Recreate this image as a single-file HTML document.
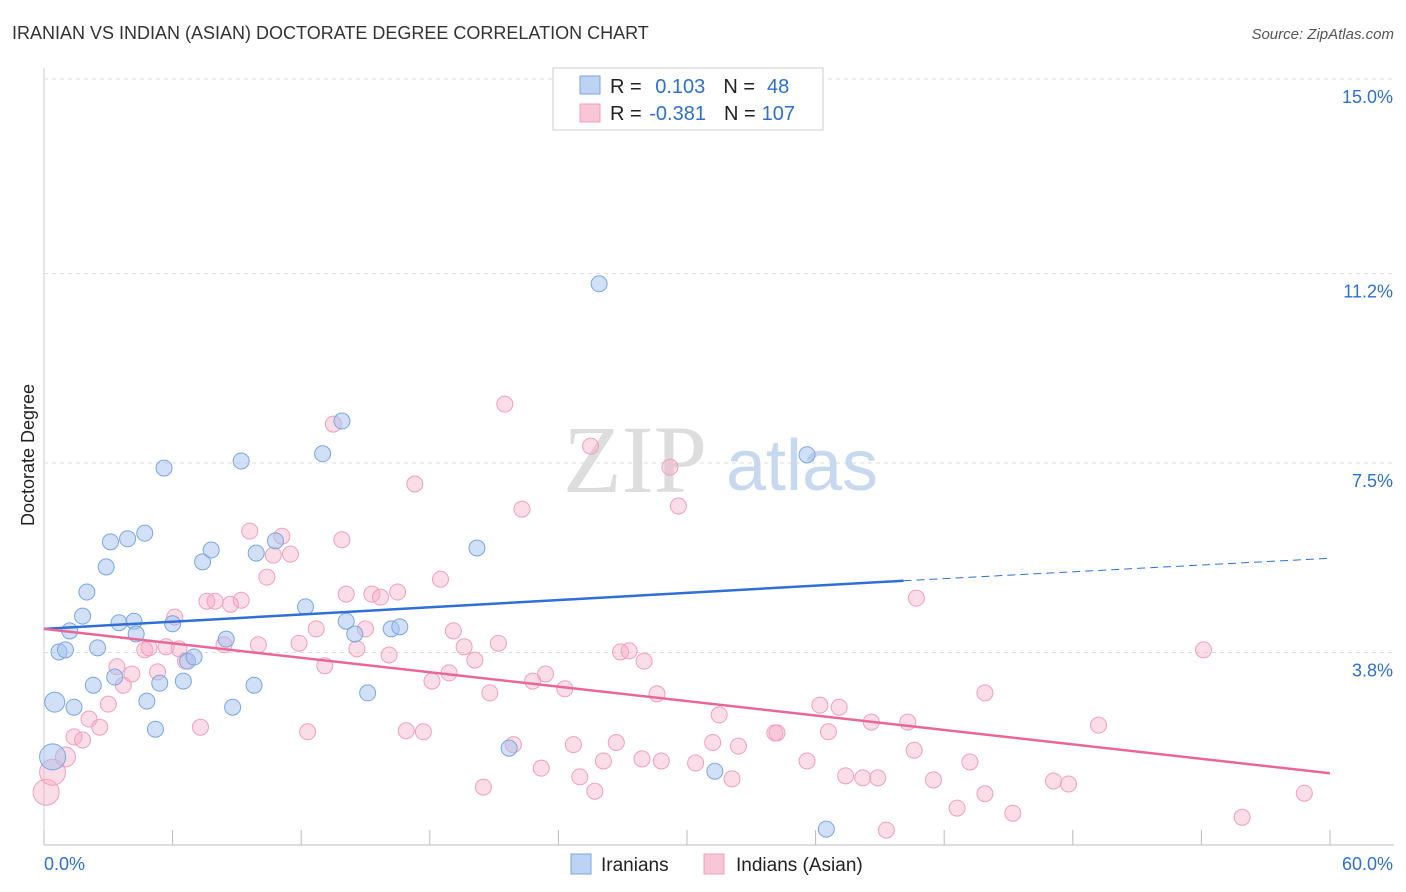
<!DOCTYPE html>
<html><head><meta charset="utf-8"><style>
body{margin:0;background:#fff;font-family:"Liberation Sans",sans-serif;}
svg{display:block}
</style></head><body>
<svg width="1406" height="892" xmlns="http://www.w3.org/2000/svg">
<text x="12" y="39" font-size="18" fill="#333">IRANIAN VS INDIAN (ASIAN) DOCTORATE DEGREE CORRELATION CHART</text>
<text x="1394" y="39" font-size="15" fill="#555" font-style="italic" text-anchor="end">Source: ZipAtlas.com</text>
<g id="grid"></g>
<text x="635" y="492" font-size="96" fill="#ddd" font-family="Liberation Serif,serif" text-anchor="middle">ZIP</text>
<text x="802" y="490" font-size="72" fill="#c8d8ef" text-anchor="middle">atlas</text>
<text x="34" y="455" font-size="18" fill="#222" text-anchor="middle" transform="rotate(-90 34 455)">Doctorate Degree</text>
<g id="pts"></g>
<g id="lines"></g>
<g>
<rect x="553" y="68" width="270" height="62" fill="#fff" stroke="#ccc"/>
<rect x="580" y="76" width="20" height="18" fill="#bcd3f3" stroke="#7aa6e0"/>
<rect x="580" y="104" width="20" height="18" fill="#f8c6d6" stroke="#f0a0ba"/>
<text x="610" y="93" font-size="20" fill="#222">R = <tspan fill="#2f6fcf" dx="8">0.103</tspan><tspan dx="18" fill="#222">N =</tspan><tspan dx="12" fill="#2f6fcf">48</tspan></text>
<text x="610" y="120" font-size="20" fill="#222">R = <tspan fill="#2f6fcf" dx="2">-0.381</tspan><tspan dx="18" fill="#222">N =</tspan><tspan dx="6" fill="#2f6fcf">107</tspan></text>
</g>
<g>
<rect x="571" y="854" width="20" height="20" fill="#bcd3f3" stroke="#7aa6e0"/>
<text x="601" y="871" font-size="19" fill="#222">Iranians</text>
<rect x="704" y="854" width="20" height="20" fill="#f8c6d6" stroke="#f0a0ba"/>
<text x="736" y="871" font-size="19" fill="#222">Indians (Asian)</text>
</g>
</svg>
<script>
const yTicks=[3.8,7.5,11.2,15.0];
const yTickLabels=["3.8%","7.5%","11.2%","15.0%"];
const xTickLabels=["0.0%","60.0%"];
const blueX=[0.4,0.5,1.4,0.7,1.0,1.2,1.8,2.0,2.3,2.5,2.9,3.1,3.5,3.3,3.9,4.2,4.3,4.7,4.8,5.2,5.4,5.6,6.0,6.5,6.7,7.0,7.4,7.8,8.5,8.8,9.2,9.8,9.9,10.8,12.2,13.0,13.9,14.1,14.5,15.1,16.2,16.6,20.2,21.7,25.9,31.3,35.6,36.5];
const blueY=[1.76,2.83,2.73,3.81,3.85,4.22,4.51,4.98,3.16,3.89,5.47,5.96,4.38,3.32,6.02,4.41,4.16,6.13,2.85,2.30,3.20,7.40,4.36,3.24,3.63,3.71,5.57,5.80,4.06,2.73,7.54,3.16,5.74,5.98,4.69,7.68,8.32,4.41,4.16,3.01,4.26,4.30,5.84,1.93,11.0,1.48,7.66,0.35];
const blueR=[13,10,8,8,8,8,8,8,8,8,8,8,8,8,8,8,8,8,8,8,8,8,8,8,8,8,8,8,8,8,8,8,8,8,8,8,8,8,8,8,8,8,8,8,8,8,8,8];
const pinkX=[0.1,0.4,1.0,1.4,1.8,2.1,2.6,3.0,3.4,3.7,4.1,4.7,4.9,5.3,5.7,6.1,6.3,6.6,7.3,7.6,7.98,8.4,8.7,9.2,9.6,10.0,10.4,10.7,11.1,11.5,11.9,12.3,12.7,13.1,13.5,13.9,14.1,14.6,15.0,15.3,15.7,16.1,16.5,16.9,17.3,17.7,18.1,18.5,18.9,19.1,19.6,20.1,20.5,20.8,21.2,21.5,21.9,22.3,22.8,23.2,23.4,24.3,24.7,25.0,25.5,25.7,26.1,26.7,26.9,27.3,27.9,28.0,28.6,28.8,29.2,29.6,30.4,31.2,31.5,32.1,32.4,34.1,34.2,35.6,36.2,36.6,37.1,37.4,38.2,38.9,38.6,39.3,40.3,40.6,40.7,41.5,42.6,43.2,43.9,43.9,45.2,47.1,47.8,49.2,54.1,55.9,58.8];
const pinkY=[1.07,1.46,1.76,2.15,2.09,2.50,2.34,2.79,3.52,3.16,3.38,3.85,3.89,3.42,3.91,4.49,3.87,3.63,2.34,4.80,4.80,3.95,4.74,4.82,6.17,3.95,5.27,5.70,6.07,5.72,3.98,2.25,4.26,3.54,8.26,6.00,4.94,3.87,4.26,4.94,4.88,3.75,4.98,2.27,7.09,2.25,3.24,5.23,3.40,4.22,3.91,3.65,1.17,3.01,3.98,8.65,2.00,6.60,3.24,1.54,3.38,3.09,2.00,1.37,7.83,1.09,1.68,2.04,3.81,3.83,1.72,3.63,2.99,1.68,7.42,6.66,1.64,2.04,2.58,1.33,1.97,2.23,2.23,1.68,2.77,2.25,2.73,1.39,1.35,1.35,2.44,0.33,2.44,1.89,4.86,1.31,0.76,1.66,3.01,1.04,0.66,1.29,1.23,2.38,3.85,0.58,1.05];
const pinkR=[13,13,10];
const blueLine=[[0,4.26],[40.1,5.20]], blueDash=[[40.1,5.20],[60,5.64]];
const pinkLine=[[0,4.26],[60,1.44]];
const X=v=>44+v/60*1286, Y=v=>847-v/15*768;
const NS="http://www.w3.org/2000/svg";
function mk(t,a,p){const e=document.createElementNS(NS,t);for(const k in a)e.setAttribute(k,a[k]);p.appendChild(e);return e;}
const grid=document.getElementById('grid');
mk('line',{x1:44,y1:845,x2:1394,y2:845,stroke:'#bbb'},grid);
mk('line',{x1:44,y1:68,x2:44,y2:845,stroke:'#ccc'},grid);
for(let i=0;i<=10;i++){const l=mk('line',{x1:44+i*128.6,y1:830,x2:44+i*128.6,y2:845,stroke:'#bbb'},grid);

}
yTicks.forEach((v,i)=>{const l=mk('line',{x1:44,y1:Y(v),x2:1394,y2:Y(v),stroke:'#ddd','stroke-dasharray':'4,4'},grid);


const t=mk('text',{x:1393,y:Y(v)+24,'font-size':18,fill:'#2f6fcf','text-anchor':'end'},grid);t.textContent=yTickLabels[i];

});
xTickLabels.forEach((s,i)=>{const t=mk('text',{x:i?1393:44,y:870,'font-size':18,fill:'#2f6fcf','text-anchor':i?'end':'start'},grid);t.textContent=s;

});
const pts=document.getElementById('pts');
pinkX.forEach((x,i)=>{const c=mk('circle',{cx:X(x),cy:Y(pinkY[i]),r:pinkR[i]||8,fill:'rgba(245,170,195,0.4)',stroke:'#f0a0ba','stroke-width':1},pts);

});
blueX.forEach((x,i)=>{const c=mk('circle',{cx:X(x),cy:Y(blueY[i]),r:blueR[i],fill:'rgba(164,194,240,0.5)',stroke:'#7aa6e0','stroke-width':1},pts);

});
const ln=document.getElementById('lines');
const a=mk('line',{x1:X(blueLine[0][0]),y1:Y(blueLine[0][1]),x2:X(blueLine[1][0]),y2:Y(blueLine[1][1]),stroke:'#2f6fd6','stroke-width':2.5},ln);


const b=mk('line',{x1:X(blueDash[0][0]),y1:Y(blueDash[0][1]),x2:X(blueDash[1][0]),y2:Y(blueDash[1][1]),stroke:'#2f6fd6','stroke-width':1,'stroke-dasharray':'8,5'},ln);


const c=mk('line',{x1:X(pinkLine[0][0]),y1:Y(pinkLine[0][1]),x2:X(pinkLine[1][0]),y2:Y(pinkLine[1][1]),stroke:'#e8679a','stroke-width':2.5},ln);


</script>
</body></html>
